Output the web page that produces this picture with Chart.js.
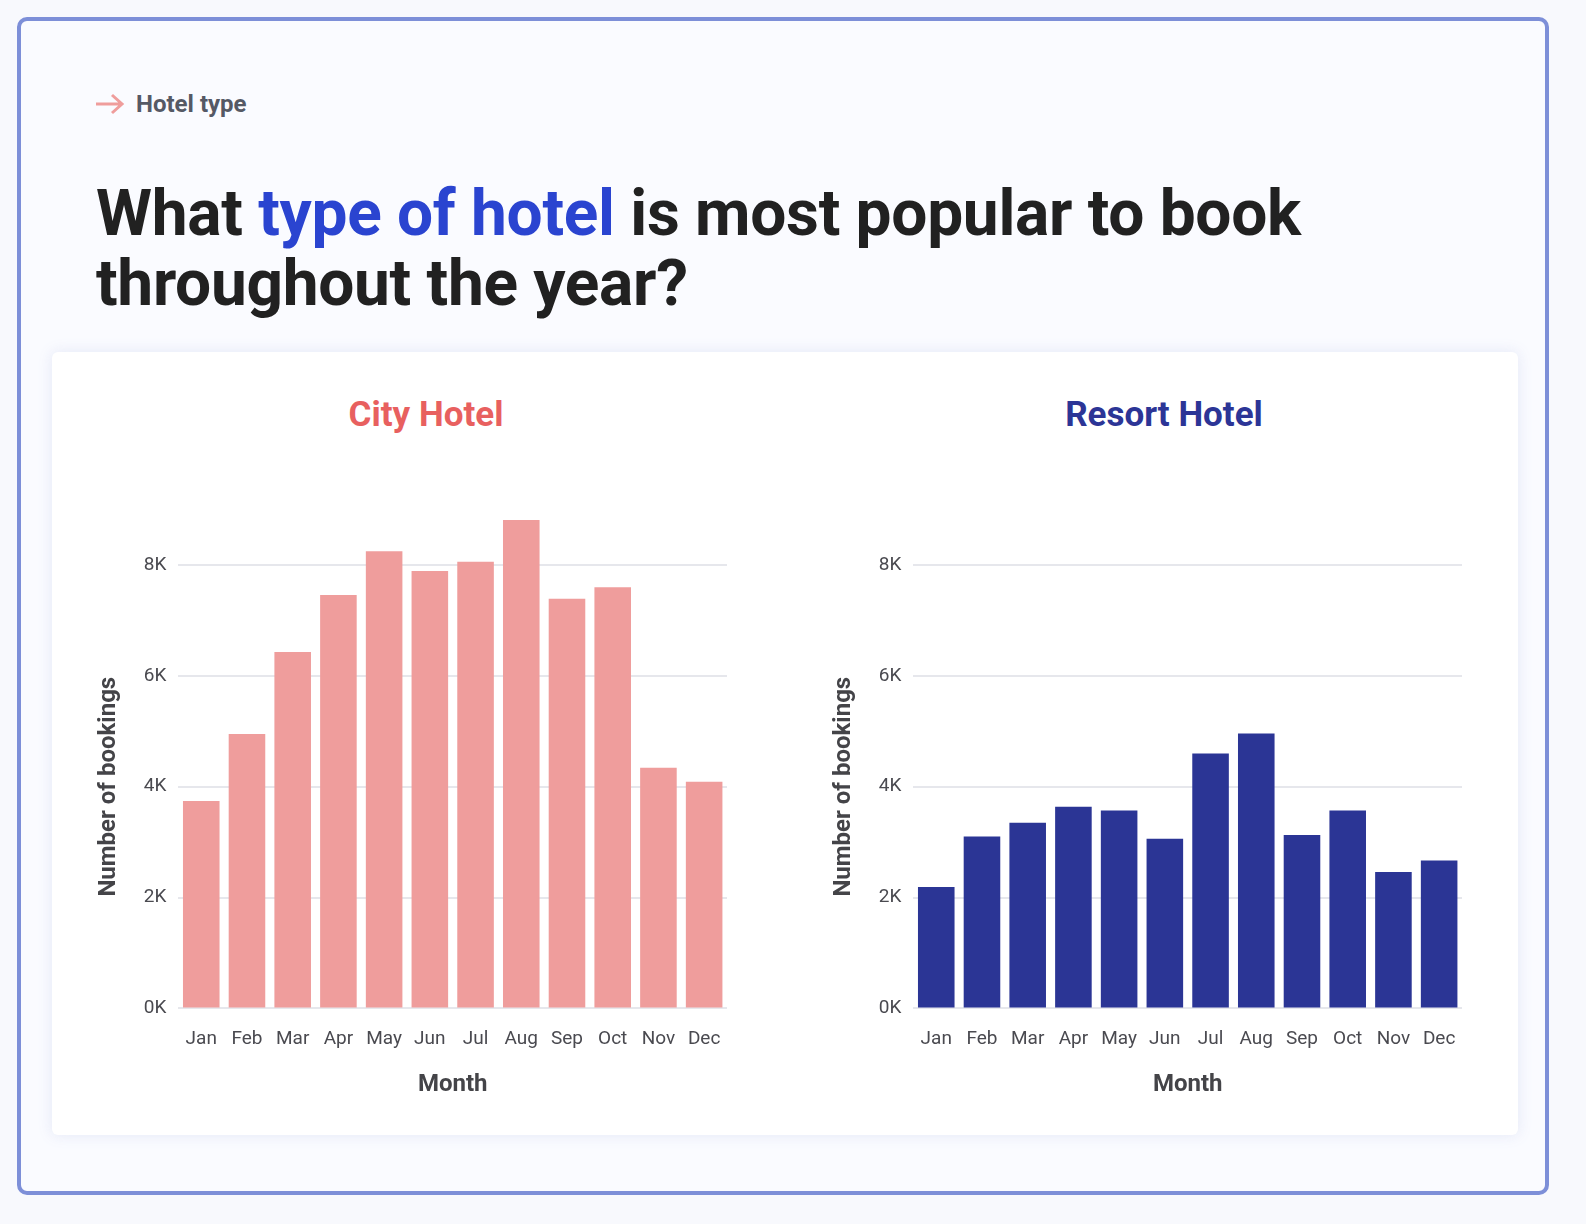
<!DOCTYPE html>
<html>
<head>
<meta charset="utf-8">
<script src="https://cdn.jsdelivr.net/npm/chart.js@4.4.0/dist/chart.umd.min.js"></script>
<style>
  body { margin: 0; background: #f8f9fd; font-family: Roboto, sans-serif; }
  .card {
    position: absolute; left: 17px; top: 17px; width: 1524px; height: 1170px;
    border: 4px solid #7d8fd8; border-radius: 10px; background: #fafbff;
  }
  .eyebrow {
    position: absolute; left: 73px; top: 69px; font-size: 24px; font-weight: 700;
    color: #555965; display: flex; align-items: center;
  }
  .eyebrow svg { margin-right: 10px; }
  h1 {
    position: absolute; left: 75px; top: 158px; margin: 0; width: 1320px;
    font-size: 64px; line-height: 70px; font-weight: 700; color: #212121; letter-spacing: -0.3px;
  }
  h1 span { color: #2a44d0; }
  .panel {
    position: absolute; left: 31px; top: 331px; width: 1466px; height: 783px;
    background: #ffffff; border-radius: 6px; box-shadow: 0 0 14px rgba(225,229,245,0.9);
  }
  .chart-title {
    position: absolute; top: 394px; width: 400px; text-align: center;
    font-size: 35px; line-height: 42px; font-weight: 700;
  }
  .box { position: absolute; top: 520px; width: 660px; height: 593px; }
</style>
</head>
<body>
<div class="card">
  <div class="eyebrow">
    <svg width="32" height="24" viewBox="0 0 32 24"><path d="M2 12 H28 M18 3 L28 12 L18 21" stroke="#ef9d9c" stroke-width="3" fill="none"/></svg>
    Hotel type
  </div>
  <h1>What <span>type of hotel</span> is most popular to book throughout the year?</h1>
  <div class="panel"></div>
</div>
<div class="chart-title" style="left:226px; color:#e8605f">City Hotel</div>
<div class="chart-title" style="left:964px; color:#2c3596">Resort Hotel</div>
<div class="box" style="left:90px"><canvas id="cityChart"></canvas></div>
<div class="box" style="left:825px"><canvas id="resortChart"></canvas></div>

<script>
// bookings per month
const months = ['Jan', 'Feb', 'Mar', 'Apr', 'May', 'Jun', 'Jul', 'Aug', 'Sep', 'Oct', 'Nov', 'Dec'];
const cityBookings = [3740, 4950, 6430, 7460, 8250, 7890, 8060, 8960, 7390, 7600, 4340, 4090];
const resortBookings = [2190, 3100, 3350, 3640, 3570, 3060, 4600, 4960, 3130, 3570, 2460, 2670];
const yTicks = [0, 2000, 4000, 6000, 8000];

function makeChart(id, values, barColor) {
    const ctx = document.getElementById(id).getContext('2d');
    return new Chart(ctx, {
        type: 'bar',
        data: {
            labels: months,
            datasets: [{
                data: values,
                backgroundColor: barColor,
                borderWidth: 0,
                barPercentage: 0.8,
                categoryPercentage: 1,
                clip: false   // bars above 8K run past the top gridline, like the original
            }]
        },
        options: {
            responsive: true,
            maintainAspectRatio: false,
            animation: false,
            layout: { padding: { top: 45, bottom: 10, right: 23, left: 0 } },
            plugins: {
                legend: { display: false },
                tooltip: { enabled: false }
            },
            scales: {
                x: {
                    grid: { display: false, drawTicks: false },
                    border: { display: false },
                    ticks: { color: '#4a4a50', font: { family: 'Roboto', size: 19 }, padding: 19, maxRotation: 0 },
                    title: {
                        display: true, text: 'Month', color: '#444448',
                        font: { family: 'Roboto', size: 24, weight: 'bold' }, padding: { top: 1 }
                    }
                },
                y: {
                    min: 0,
                    max: 8000,
                    afterBuildTicks: function (axis) {
                        axis.ticks = yTicks.map(function (v) { return { value: v }; });
                    },
                    grid: { color: '#e6e7ec', lineWidth: 2, drawTicks: false },
                    border: { display: false },
                    ticks: {
                        color: '#4a4a50', font: { family: 'Roboto', size: 19 }, padding: 12,
                        callback: function (v) { return (v / 1000) + 'K'; }
                    },
                    title: {
                        display: true, text: 'Number of bookings', color: '#444448',
                        font: { family: 'Roboto', size: 24, weight: 'bold' }, padding: { top: 5, bottom: 8 }
                    }
                }
            }
        }
    });
}

makeChart('cityChart', cityBookings, '#ef9d9c');
makeChart('resortChart', resortBookings, '#2b3595');
</script>
</body>
</html>
